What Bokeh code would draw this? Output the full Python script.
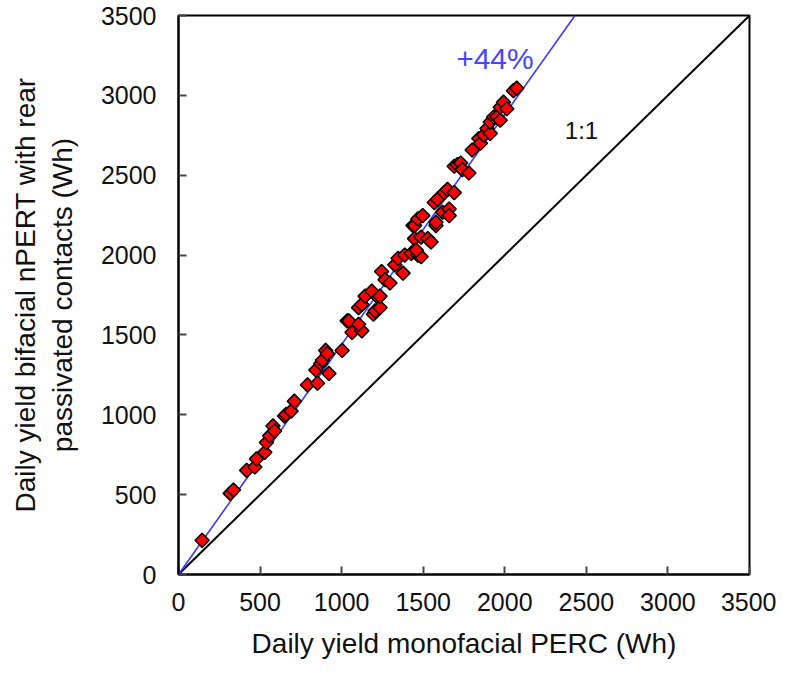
import math
from bokeh.plotting import figure
from bokeh.models import Range1d, Label, FixedTicker, ColumnDataSource
from bokeh.embed import file_html
from bokeh.resources import INLINE

# Data (Wh)
perc_x = [145, 317, 337, 418, 468, 478, 529, 539, 559, 579, 589, 650, 660, 690, 710,
          791, 852, 842, 872, 882, 902, 912, 922, 1003, 1034, 1044, 1064, 1124, 1104,
          1104, 1124, 1144, 1185, 1195, 1205, 1225, 1235, 1235, 1245, 1266, 1296, 1326,
          1346, 1376, 1387, 1427, 1467, 1487, 1447, 1457, 1487, 1528, 1548, 1437, 1447,
          1467, 1497, 1578, 1578, 1568, 1588, 1619, 1659, 1659, 1629, 1649, 1690, 1690,
          1710, 1730, 1740, 1780, 1800, 1841, 1851, 1871, 1891, 1911, 1911, 1932, 1952,
          1972, 1972, 1992, 2012, 2053, 2073]
npert_y = [214, 508, 529, 652, 673, 724, 765, 827, 869, 930, 899, 992, 1002, 1023, 1085,
           1187, 1198, 1280, 1321, 1341, 1403, 1383, 1259, 1403, 1588, 1588, 1516, 1526, 1567,
           1671, 1691, 1743, 1774, 1630, 1650, 1733, 1671, 1743, 1897, 1846, 1825, 1939,
           1980, 1887, 2000, 2011, 2000, 1990, 2103, 2031, 2113, 2103, 2082, 2185, 2185,
           2226, 2247, 2185, 2206, 2329, 2350, 2268, 2288, 2247, 2391, 2411, 2391, 2556,
           2566, 2576, 2535, 2514, 2658, 2730, 2700, 2751, 2792, 2762, 2833, 2864, 2864,
           2844, 2926, 2957, 2916, 3029, 3045]

axis_max = 3500
tick_values = [0, 500, 1000, 1500, 2000, 2500, 3000, 3500]
fit_slope = 1.44
fit_label = "+44%"
identity_label = "1:1"
x_title = "Daily yield monofacial PERC (Wh)"
y_title = "Daily yield bifacial nPERT with rear\npassivated contacts (Wh)"

FONT = "Liberation Sans"

p = figure(width=776, height=661, output_backend="svg", toolbar_location=None,
           x_range=Range1d(0, axis_max), y_range=Range1d(0, axis_max),
           min_border_left=178, min_border_right=27, min_border_top=15, min_border_bottom=85)
p.grid.visible = False
p.background_fill_color = "white"
p.border_fill_color = "white"
p.outline_line_color = "black"
p.outline_line_width = 2
p.outline_line_alpha = 1

for ax in (p.xaxis[0], p.yaxis[0]):
    ax.ticker = FixedTicker(ticks=tick_values)
    ax.major_tick_in = 8
    ax.major_tick_out = 0
    ax.minor_tick_in = 0
    ax.minor_tick_out = 0
    ax.axis_line_width = 2
    ax.axis_line_color = "black"
    ax.major_tick_line_color = "#444444"
    ax.major_tick_line_width = 2
    ax.major_label_text_font = FONT
    ax.major_label_text_font_size = "25px"
    ax.major_label_text_color = "#111111"
    ax.axis_label_text_font = FONT
    ax.axis_label_text_font_size = "28px"
    ax.axis_label_text_font_style = "normal"
    ax.axis_label_text_color = "#111111"

p.xaxis[0].axis_label = x_title
p.yaxis[0].axis_label = y_title
p.xaxis[0].major_label_standoff = 18
p.yaxis[0].major_label_standoff = 22
p.xaxis[0].axis_label_standoff = 14
p.yaxis[0].axis_label_standoff = 20

# 1:1 line
p.line([0, axis_max], [0, axis_max], line_color="black", line_width=2)
# fit line
p.line([0, axis_max / fit_slope], [0, axis_max], line_color="#3a3aff", line_width=1.6)

src = ColumnDataSource(dict(x=perc_x, y=npert_y))
p.scatter("x", "y", source=src, marker="square", size=10, angle=math.pi / 4,
          fill_color="#ff0000", line_color="black", line_width=1.5)

p.add_layout(Label(x=1702, y=3130, text=fit_label, text_font=FONT, text_font_size="30px",
                   text_color="#4646ff"))
p.add_layout(Label(x=2368, y=2698, text=identity_label, text_font=FONT, text_font_size="24px",
                   text_color="#111111"))

open("out.html", "w").write(file_html(p, INLINE))
